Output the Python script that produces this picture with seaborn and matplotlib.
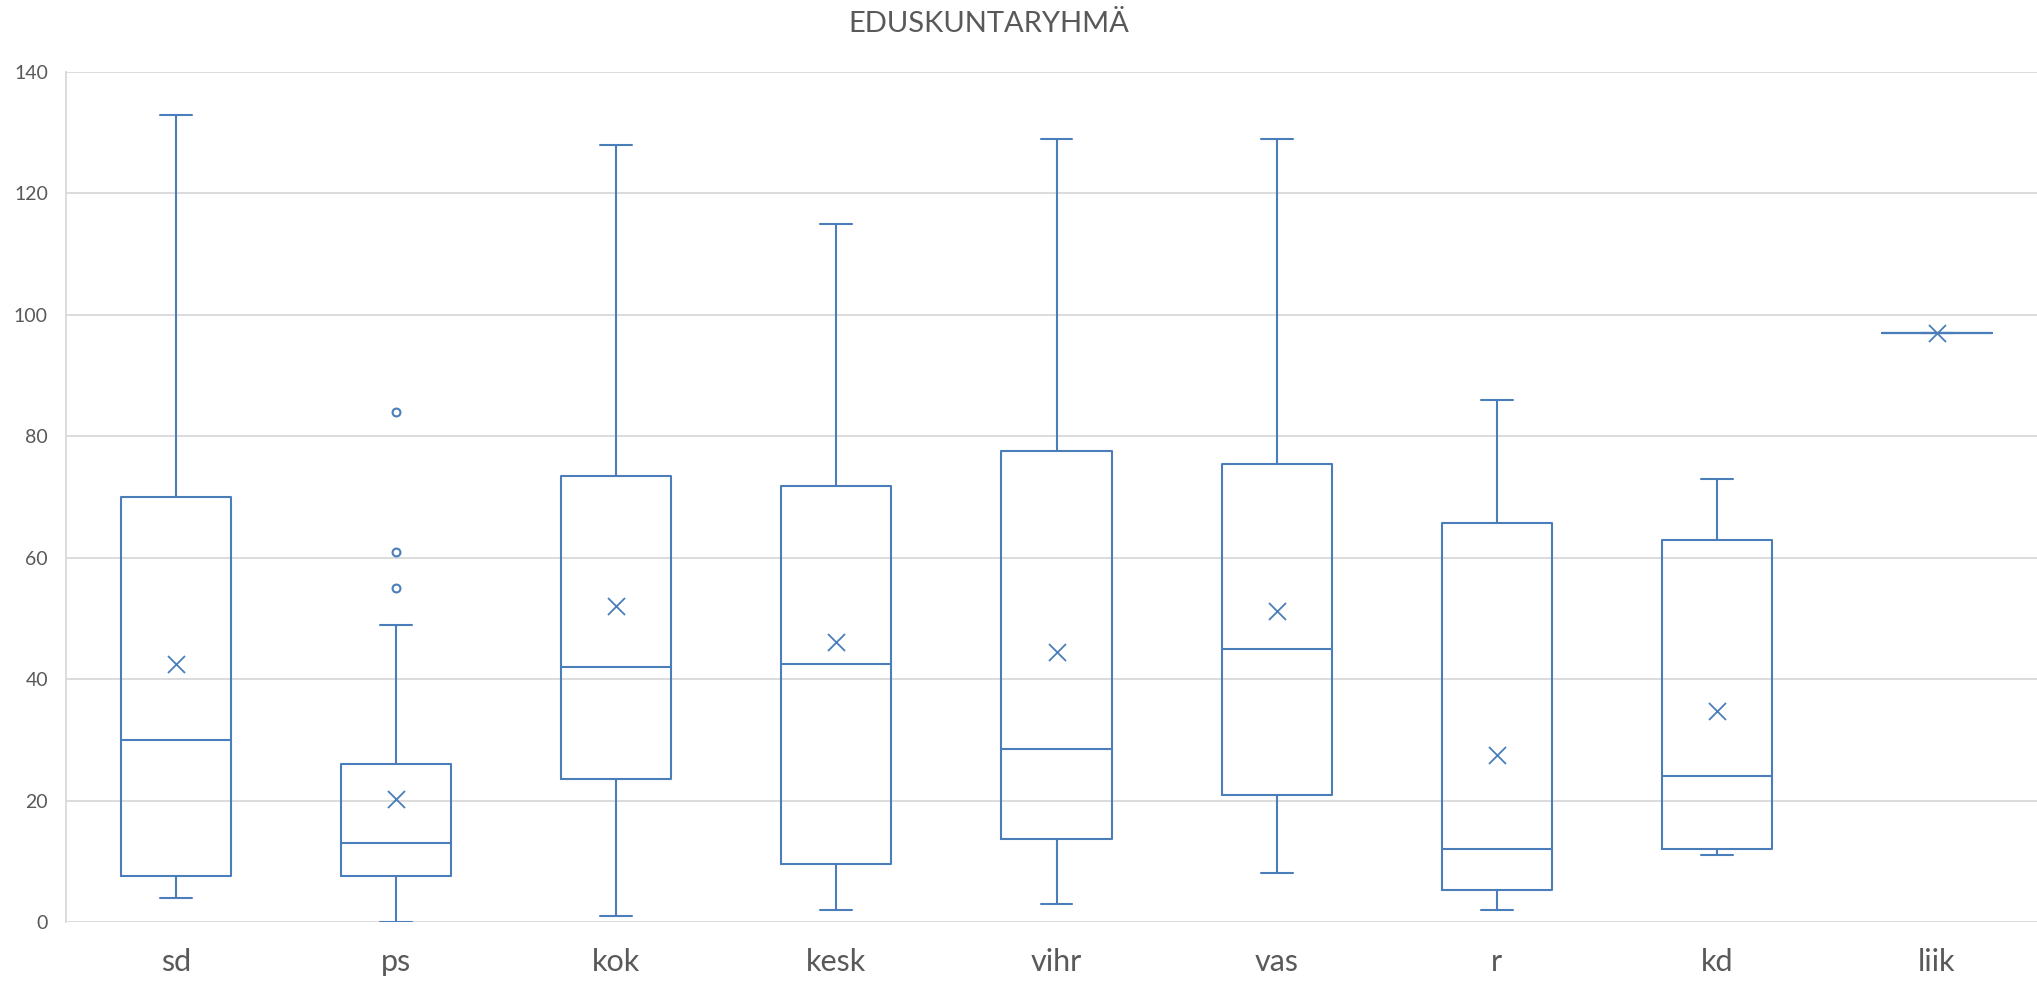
import numpy as np
import matplotlib
matplotlib.use('Agg')
import matplotlib.pyplot as plt
import seaborn as sns

# box statistics
groups = ['sd', 'ps', 'kok', 'kesk', 'vihr', 'vas', 'r', 'kd', 'liik']
whisker_low = [4, 0, 1, 2, 3, 8, 2, 11, 97]
q1 = [7.5, 7.5, 23.5, 9.5, 13.75, 21, 5.25, 12, 97]
median = [30, 13, 42, 42.5, 28.5, 45, 12, 24, 97]
q3 = [70, 26, 73.5, 71.75, 77.5, 75.5, 65.75, 63, 97]
whisker_high = [133, 49, 128, 115, 129, 129, 86, 73, 97]
means = [42.5, 20.2, 52.1, 46.1, 44.5, 51.3, 27.5, 34.8, 97]
outlier_group = ['ps', 'ps', 'ps']
outlier_value = [84, 61, 55]

BLUE = '#4a7ebb'
GRID = '#d9d9d9'
TEXT = '#595959'

sns.set_theme(style='white')
plt.rcParams['font.family'] = ['Lato', 'DejaVu Sans']

fig = plt.figure(figsize=(20.37, 9.83), dpi=100)
ax = fig.add_axes([66 / 2037, 1 - 922 / 983, (2047 - 66) / 2037, (922 - 72) / 983])

stats = []
for i, g in enumerate(groups):
    stats.append({'label': g, 'whislo': whisker_low[i], 'q1': q1[i], 'med': median[i],
                  'q3': q3[i], 'whishi': whisker_high[i], 'fliers': []})
pos = np.arange(len(groups))
line = dict(color=BLUE, linewidth=1.5)
ax.bxp(stats, positions=pos, widths=0.5, capwidths=0.145, showfliers=False,
       boxprops=line, whiskerprops=line, capprops=line,
       medianprops=dict(color=BLUE, linewidth=1.5), manage_ticks=False, zorder=3)

sns.scatterplot(x=pos, y=means, marker='x', color=BLUE, s=150, linewidth=1.3, ax=ax, zorder=4)
opos = [groups.index(g) for g in outlier_group]
sns.scatterplot(x=opos, y=outlier_value, marker='o', facecolor='white', edgecolor=BLUE,
                s=32, linewidth=1.5, ax=ax, zorder=4)

ax.set_xlim(-0.5, len(groups) - 0.5)
ax.set_ylim(0, 140)
ax.set_yticks(range(0, 141, 20))
ax.set_xticks(pos)
ax.set_xticklabels(groups)
ax.yaxis.grid(True, color=GRID, linewidth=1.3)
ax.set_axisbelow(True)
for s in ['top', 'right', 'bottom']:
    ax.spines[s].set_visible(False)
ax.spines['left'].set_color(GRID)
ax.spines['left'].set_linewidth(1.3)
ax.tick_params(axis='y', labelsize=14, colors=TEXT, length=0, pad=13)
ax.tick_params(axis='x', labelsize=22, colors=TEXT, length=0, pad=19)
ax.set_xlabel('')
ax.set_ylabel('')

fig.text(989 / 2037, 1 - 24 / 983, 'EDUSKUNTARYHMÄ', ha='center', va='center', fontsize=21, color=TEXT)

fig.savefig('out.png', dpi=100)
